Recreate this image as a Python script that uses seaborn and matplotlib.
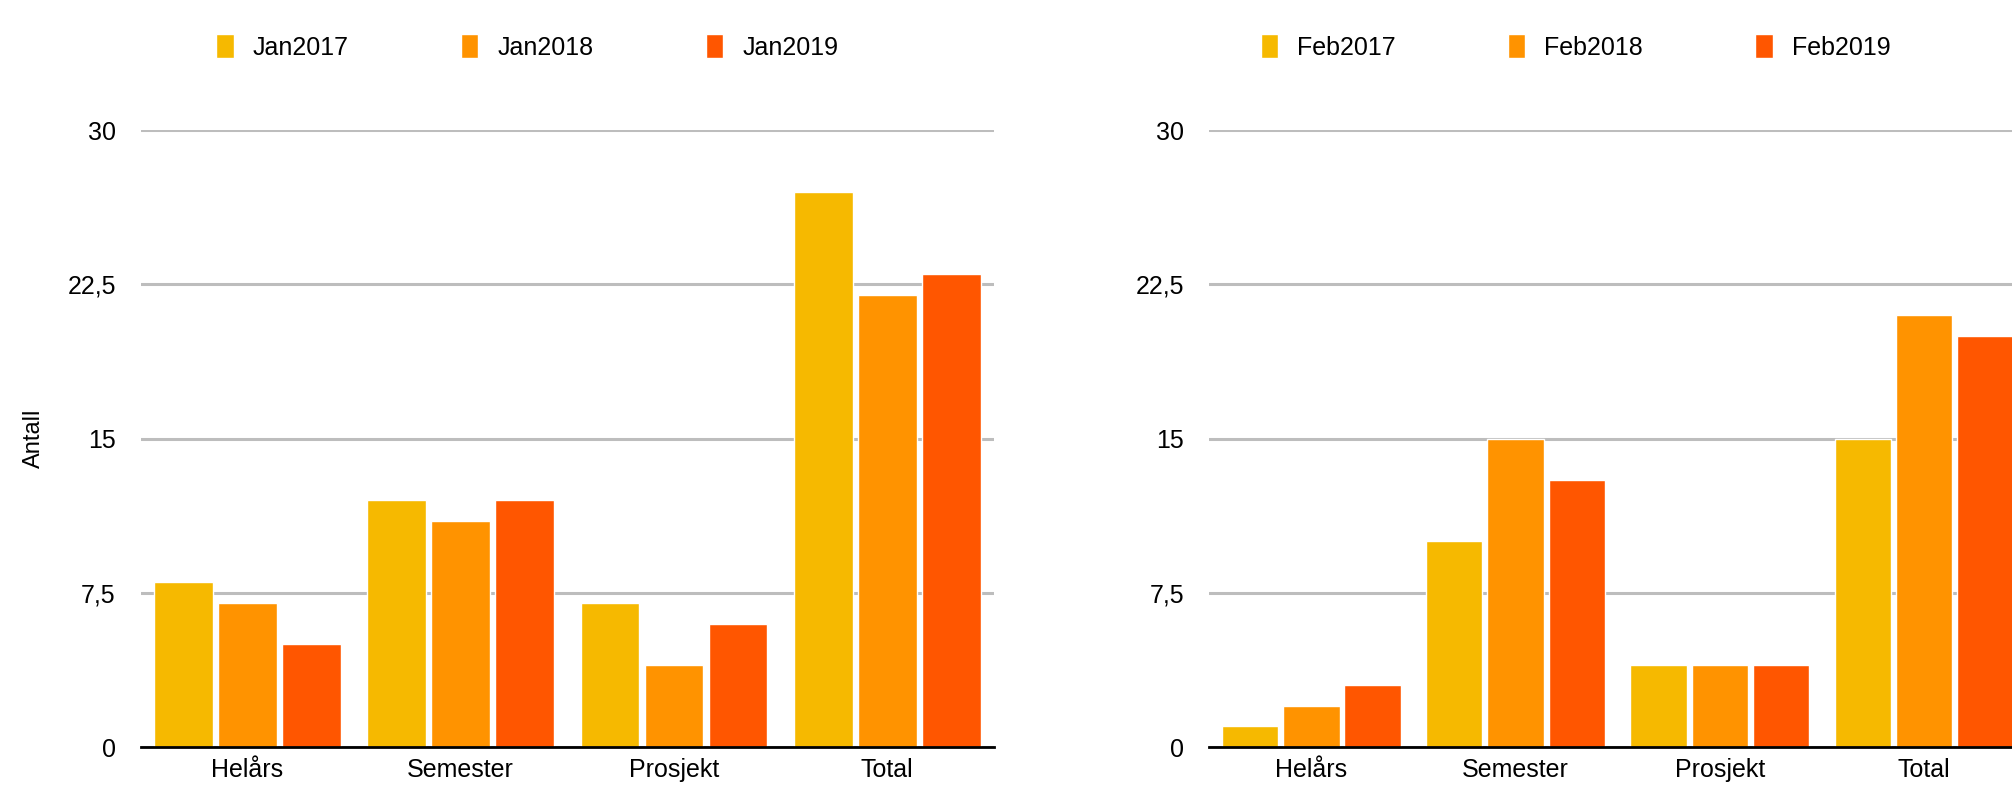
import matplotlib
matplotlib.use("Agg")
import matplotlib.pyplot as plt
import seaborn as sns
import pandas as pd
from matplotlib.ticker import FuncFormatter

categories = ["Helårs", "Semester", "Prosjekt", "Total"]

jan_series = ["Jan2017", "Jan2018", "Jan2019"]
jan2017 = [8, 12, 7, 27]
jan2018 = [7, 11, 4, 22]
jan2019 = [5, 12, 6, 23]

feb_series = ["Feb2017", "Feb2018", "Feb2019"]
feb2017 = [1, 10, 4, 15]
feb2018 = [2, 15, 4, 21]
feb2019 = [3, 13, 4, 20]

yticks = [0, 7.5, 15, 22.5, 30]
colors = ["#F6B900", "#FF9300", "#FF5600"]


def to_long(series_names, series_values):
    rows = []
    for name, vals in zip(series_names, series_values):
        for cat, v in zip(categories, vals):
            rows.append({"kategori": cat, "serie": name, "antall": v})
    return pd.DataFrame(rows)


def comma_fmt(v, pos):
    return ("%g" % v).replace(".", ",")


sns.set_theme(style="white")
plt.rcParams["font.family"] = ["Liberation Sans Narrow", "Liberation Sans", "DejaVu Sans"]

fig = plt.figure(figsize=(20.12, 7.93), dpi=100)
ax1 = fig.add_axes([0.070, 0.058, 0.424, 0.778])
ax2 = fig.add_axes([0.601, 0.058, 0.406, 0.778])

panels = [
    (ax1, to_long(jan_series, [jan2017, jan2018, jan2019]), jan_series, 0.262),
    (ax2, to_long(feb_series, [feb2017, feb2018, feb2019]), feb_series, 0.783),
]

for ax, df, names, leg_x in panels:
    sns.barplot(data=df, x="kategori", y="antall", hue="serie",
                hue_order=names, palette=colors, width=0.9, gap=0.08,
                saturation=1, ax=ax, legend=True)
    ax.set_ylim(0, 30)
    ax.set_xlim(-0.5, 3.5)
    ax.set_yticks(yticks)
    ax.yaxis.set_major_formatter(FuncFormatter(comma_fmt))
    ax.grid(axis="y", color="#BDBDBD", linewidth=2.2)
    ax.set_axisbelow(True)
    for s in ["top", "right", "left"]:
        ax.spines[s].set_visible(False)
    ax.spines["bottom"].set_color("black")
    ax.spines["bottom"].set_linewidth(2)
    ax.spines["bottom"].set_zorder(5)
    ax.tick_params(axis="y", length=0, pad=18, labelsize=18, labelcolor="black")
    ax.tick_params(axis="x", length=0, pad=8, labelsize=18, labelcolor="black")
    ax.set_xlabel("")
    ax.set_ylabel("")
    handles, labels = ax.get_legend_handles_labels()
    ax.get_legend().remove()
    fig.legend(handles, labels, loc="center", bbox_to_anchor=(leg_x, 0.941),
               ncol=3, frameon=False, fontsize=18, handlelength=0.7,
               handleheight=1.1, handletextpad=0.75, columnspacing=4.5,
               labelcolor="black")

ax1.set_ylabel("Antall", fontsize=17, labelpad=16, color="black")

fig.savefig("out.png", dpi=100)
